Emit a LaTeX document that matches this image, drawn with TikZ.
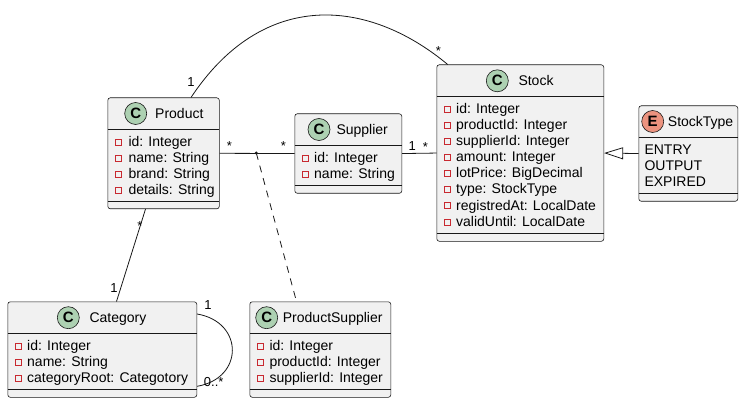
\documentclass[tikz,border=0pt]{standalone}
\usepackage{fontspec}
\setmainfont{Liberation Sans}
\usetikzlibrary{shapes,arrows.meta,calc}

\definecolor{boxfill}{HTML}{F1F1F1}
\definecolor{boxline}{HTML}{181818}
\definecolor{classicon}{HTML}{ADD1B2}
\definecolor{enumicon}{HTML}{EB937F}
\definecolor{privred}{HTML}{C82930}

\begin{document}
\begin{tikzpicture}[x=1pt,y=-1pt,
    classbox/.style={draw=boxline,fill=boxfill,line width=0.6pt,rounded corners=2.5pt,inner sep=0pt,anchor=north west},
    sep/.style={draw=boxline,line width=0.6pt},
    badge/.style={circle,draw=boxline,line width=0.6pt,minimum size=22pt,inner sep=0pt,font=\fontsize{15}{15}\selectfont\bfseries},
    cname/.style={anchor=base west,inner sep=0pt,font=\fontsize{14}{16}\selectfont},
    attr/.style={anchor=base west,inner sep=0pt,font=\fontsize{14}{16}\selectfont},
    priv/.style={draw=privred,line width=0.6pt,minimum size=6pt,inner sep=0pt},
    mult/.style={anchor=base,inner sep=0pt,font=\fontsize{13}{15}\selectfont},
    link/.style={draw=boxline,line width=0.8pt}]
  \useasboundingbox (0,0) rectangle (743,403);

  % class boxes
  \node[classbox,minimum width=111.5pt,minimum height=111pt] (product) at (107.5,97.5) {};
  \node[classbox,minimum width=107pt,minimum height=79.5pt] (supplier) at (294.5,113.5) {};
  \node[classbox,minimum width=167pt,minimum height=176.5pt] (stock) at (436.5,64.5) {};
  \node[classbox,minimum width=99pt,minimum height=95.5pt] (stocktype) at (638.5,105.5) {};
  \node[classbox,minimum width=189pt,minimum height=95.5pt] (category) at (7.5,301.5) {};
  \node[classbox,minimum width=141pt,minimum height=95.5pt] (prodsupp) at (249.5,301.5) {};

  % dividers
  \draw[sep] (107.5,129.5) -- +(111.5,0) (107.5,201) -- +(111.5,0);
  \draw[sep] (294.5,145.5) -- +(107,0) (294.5,185.5) -- +(107,0);
  \draw[sep] (436.5,96.5) -- +(167,0) (436.5,233) -- +(167,0);
  \draw[sep] (638.5,137.5) -- +(99,0) (638.5,193) -- +(99,0);
  \draw[sep] (7.5,333.5) -- +(189,0) (7.5,389) -- +(189,0);
  \draw[sep] (249.5,333.5) -- +(141,0) (249.5,389) -- +(141,0);

  % headers
  \node[badge,fill=classicon] (product-c) at (135.7,113.5) {C};
  \node[cname] (product-n) at (155,118.5) {Product};
  \node[badge,fill=classicon] (supplier-c) at (319,129.5) {C};
  \node[cname] (supplier-n) at (336.3,134.5) {Supplier};
  \node[badge,fill=classicon] (stock-c) at (497.3,80.8) {C};
  \node[cname] (stock-n) at (518.3,85.5) {Stock};
  \node[badge,fill=enumicon] (stocktype-c) at (652.7,121.5) {E};
  \node[cname] (stocktype-n) at (667.7,126.5) {StockType};
  \node[badge,fill=classicon] (category-c) at (68.3,317.7) {C};
  \node[cname] (category-n) at (89.3,322.5) {Category};
  \node[badge,fill=classicon] (prodsupp-c) at (266.7,317.7) {C};
  \node[cname] (prodsupp-n) at (282.7,322.5) {ProductSupplier};

  % fields
  \foreach \t [count=\i from 0] in {id: Integer, name: String, brand: String, details: String}
  {
    \node[priv] (product-p\i) at (118.7,142.2+16.1*\i) {};
    \node[attr] (product-a\i) at (128.3,146.5+16.1*\i) {\t};
  }
  \foreach \t [count=\i from 0] in {id: Integer, name: String}
  {
    \node[priv] (supplier-p\i) at (305.3,158.2+16.1*\i) {};
    \node[attr] (supplier-a\i) at (314,162.5+16.1*\i) {\t};
  }
  \foreach \t [count=\i from 0] in {id: Integer, productId: Integer, supplierId: Integer,
    amount: Integer, lotPrice: BigDecimal, type: StockType, registredAt: LocalDate, validUntil: LocalDate}
  {
    \node[priv] (stock-p\i) at (447.3,109.2+16.1*\i) {};
    \node[attr] (stock-a\i) at (456,113.5+16.1*\i) {\t};
  }
  \foreach \t [count=\i from 0] in {ENTRY, OUTPUT, EXPIRED}
    \node[attr] (stocktype-a\i) at (644.3,154.5+16.1*\i) {\t};
  \foreach \t [count=\i from 0] in {id: Integer, name: String, categoryRoot: Categotory}
  {
    \node[priv] (category-p\i) at (18.3,346.2+16.1*\i) {};
    \node[attr] (category-a\i) at (27,350.5+16.1*\i) {\t};
  }
  \foreach \t [count=\i from 0] in {id: Integer, productId: Integer, supplierId: Integer}
  {
    \node[priv] (prodsupp-p\i) at (260.7,346.2+16.1*\i) {};
    \node[attr] (prodsupp-a\i) at (269.3,350.5+16.1*\i) {\t};
  }

  % relations
  \coordinate (ps) at (256.3,153);
  \draw[link] (product.east) -- (supplier.west);
  \fill[boxline] (ps) circle [radius=1.6pt];
  \draw[link,dash pattern=on 7pt off 6pt] (ps) -- ($(prodsupp.north west)+(47,0)$);
  \draw[link] (supplier.east) -- (stock.west);
  \draw[link,-{Triangle[open,length=19pt,width=12pt]}] (stocktype.west) -- (stock.east);
  \draw[link] ($(product.south west)+(38,0)$) -- ($(category.north west)+(109,0)$);
  \draw[link] ($(product.north west)+(83.5,0)$) .. controls +(71.5,-107.9) and +(-80.8,-67.2) .. ($(stock.north west)+(11.2,0)$);
  \draw[link] ($(category.north east)+(0,12.5)$) .. controls +(47,8) and +(47,-8) .. ($(category.south east)+(0,-11.3)$);

  % multiplicities
  \node[mult] (m1) at (191,86.3) {1};
  \node[mult] (m2) at (438.3,55.9) {*};
  \node[mult] (m3) at (229.3,150.9) {*};
  \node[mult] (m4) at (283.3,150.9) {*};
  \node[mult] (m5) at (412.3,150.7) {1};
  \node[mult] (m6) at (425.3,151.4) {*};
  \node[mult] (m7) at (140,230.9) {*};
  \node[mult] (m8) at (114,292) {1};
  \node[mult] (m9) at (208,309.6) {1};
  \node[mult] (m10) at (213.7,386) {0..*};
\end{tikzpicture}
\end{document}
